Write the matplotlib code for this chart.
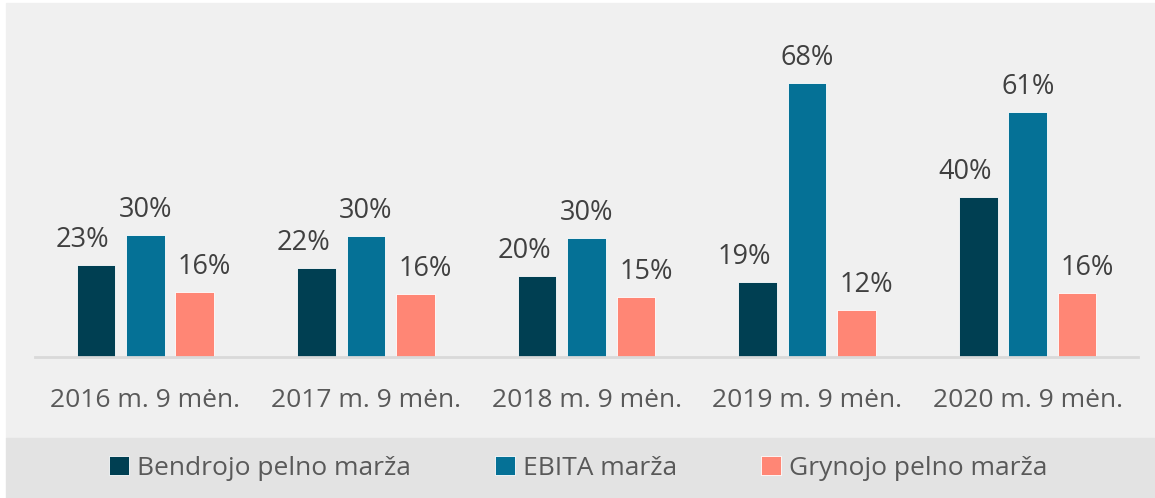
import matplotlib
matplotlib.use("Agg")
import matplotlib.pyplot as plt
import numpy as np
from matplotlib.patches import Rectangle

plt.rcParams["font.family"] = ["Open Sans", "DejaVu Sans"]

categories = ["2016 m. 9 mėn.", "2017 m. 9 mėn.", "2018 m. 9 mėn.",
              "2019 m. 9 mėn.", "2020 m. 9 mėn."]
series_names = ["Bendrojo pelno marža", "EBITA marža", "Grynojo pelno marža"]
bendrojo = [22.8, 22.1, 20.1, 18.6, 39.7]
ebita = [30.3, 30.0, 29.5, 68.0, 60.8]
grynojo = [16.1, 15.6, 14.9, 11.6, 15.9]

colors = ["#003f52", "#057196", "#ff8675"]
label_shift = [-13, 0, 10]  # px, horizontal nudge of value labels

W, H = 1155, 498
fig = plt.figure(figsize=(W / 100, H / 100), dpi=100)
fig.patch.set_facecolor("white")
# chart panel + legend band
fig.patches.append(Rectangle((6 / W, 1 - 438 / H), 1 - 6 / W, (438 - 3) / H,
                             transform=fig.transFigure, color="#f0f0f0", zorder=-10))
fig.patches.append(Rectangle((6 / W, 0), 1 - 6 / W, 60 / H,
                             transform=fig.transFigure, color="#e3e3e3", zorder=-10))

ax = fig.add_axes([35 / W, 1 - 357 / H, (1138 - 35) / W, (357 - 10) / H])
ax.set_facecolor("none")

x = np.arange(len(categories))
width = 0.175
step = 0.224
handles = []
for i, (vals, col) in enumerate(zip([bendrojo, ebita, grynojo], colors)):
    bars = ax.bar(x + (i - 1) * step, vals, width, color=col,
                  edgecolor="white", linewidth=0.6, label=series_names[i])
    handles.append(bars)
    for b, v in zip(bars, vals):
        ax.annotate(f"{v:.0f}%", (b.get_x() + b.get_width() / 2, v),
                    xytext=(label_shift[i], 11), textcoords="offset pixels",
                    ha="center", va="bottom", fontsize=19.5, color="#404040")

ax.set_xlim(-0.5, len(categories) - 0.5)
ax.set_ylim(0, 86)
for s in ["top", "left", "right"]:
    ax.spines[s].set_visible(False)
ax.spines["bottom"].set_color("#d9d9d9")
ax.spines["bottom"].set_linewidth(2)
ax.set_yticks([])
ax.set_xticks(x)
ax.set_xticklabels(categories, fontsize=19, color="#595959")
ax.tick_params(axis="x", length=0, pad=22)

fig.legend(handles=handles, labels=series_names, loc="center",
           bbox_to_anchor=(578 / W, 30 / H), ncol=3, frameon=False,
           fontsize=19, labelcolor="#595959", handlelength=0.75,
           handleheight=0.75, handletextpad=0.3, columnspacing=3.2)

fig.savefig("out.png", dpi=100)
